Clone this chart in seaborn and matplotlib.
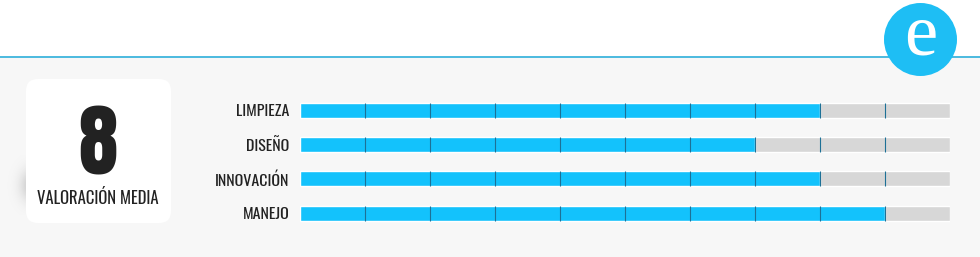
import numpy as np
import pandas as pd
import matplotlib
matplotlib.use("Agg")
import matplotlib.pyplot as plt
from matplotlib.patches import FancyBboxPatch, Circle, Rectangle
import seaborn as sns

# ---- data ----
categories = ["LIMPIEZA", "DISEÑO", "INNOVACIÓN", "MANEJO"]
scores = [8, 7, 8, 9]
max_score = 10
average_label = "8"
average_title = "VALORACIÓN MEDIA"
logo_letter = "e"

sns.set_theme(style="white")
plt.rcParams["font.family"] = ["Oswald", "DejaVu Sans"]

W, H = 980, 257
fig = plt.figure(figsize=(W / 100, H / 100), dpi=100)
fig.patch.set_facecolor("white")

# background axes in pixel coordinates
bg = fig.add_axes([0, 0, 1, 1])
bg.set_xlim(0, W)
bg.set_ylim(H, 0)
bg.axis("off")

bg.add_patch(Rectangle((0, 57.5), W, H - 57.5, facecolor="#f7f7f7", edgecolor="none", zorder=0))
bg.plot([0, W], [57.2, 57.2], color="#3db4dc", lw=1.3, zorder=1, solid_capstyle="butt")

# soft shadow left of the score box
yy, xx = np.mgrid[0:60, 0:40]
d = np.exp(-(((xx - 30) / 11.0) ** 2) - (((yy - 30) / 16.0) ** 2))
shadow = np.zeros((60, 40, 4))
shadow[..., :3] = 0.5
shadow[..., 3] = 0.35 * d
bg.imshow(shadow, extent=[0, 40, 215, 155], zorder=1, interpolation="bilinear")

box = FancyBboxPatch((26 + 12, 79 + 12), 145 - 24, 144 - 24,
                     boxstyle="round,pad=12", facecolor="white", edgecolor="none", zorder=2)
bg.add_patch(box)

bg.text(97.5, 145.5, average_label, ha="center", va="center", fontsize=57,
        family=["Anton", "Oswald", "DejaVu Sans"], color="#222222", zorder=3)
bg.text(98, 198.5, average_title, ha="center", va="center", fontsize=12,
        color="#222222", zorder=3)

# logo
bg.add_patch(Circle((920.5, 39.5), 36.5, facecolor="#1ebef4", edgecolor="none", zorder=3))
bg.text(920.5, 37, logo_letter, ha="center", va="center", fontsize=54,
        family=["Liberation Serif", "DejaVu Serif"], color="white", zorder=4)

# ---- bars ----
spacing = 34.17
top_px = 110.5 - spacing / 2
height_px = spacing * len(categories)
ax = fig.add_axes([300 / W, (H - top_px - height_px) / H, 650 / W, height_px / H])
ax.patch.set_alpha(0)

df = pd.DataFrame({"category": categories, "score": scores, "max": [max_score] * len(categories)})
bw = 15 / spacing
sns.barplot(data=df, x="max", y="category", color="#d7d7d7", saturation=1,
            width=bw, orient="h", ax=ax, zorder=1)
sns.barplot(data=df, x="score", y="category", color="#13c2fc", saturation=1,
            width=bw, orient="h", ax=ax, zorder=2)

for i in range(len(categories)):
    ax.vlines(np.arange(1, max_score), i - bw / 2, i + bw / 2,
              color="#1d7096", lw=0.8, zorder=3)

ax.set_xlim(0, max_score)
ax.set_ylim(len(categories) - 0.5, -0.5)
ax.set_xlabel("")
ax.set_ylabel("")
ax.set_xticks([])
for s in ax.spines.values():
    s.set_visible(False)
ax.tick_params(axis="y", length=0, pad=7.5, labelsize=11.5, labelcolor="#222222")

fig.savefig("out.png", dpi=100, facecolor="white")
